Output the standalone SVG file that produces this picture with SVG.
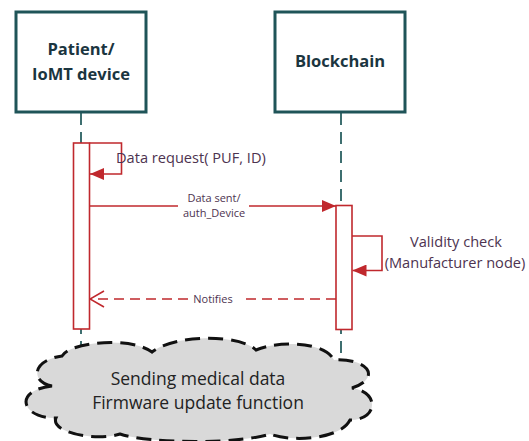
<svg xmlns="http://www.w3.org/2000/svg" width="529" height="441" viewBox="0 0 529 441">
  <style>
    .actor { fill: #ffffff; stroke: #1f5458; stroke-width: 3; }
    .actor-label { font-family: "Open Sans", "Liberation Sans", sans-serif; font-weight: bold; font-size: 16.5px; fill: #1b3540; text-anchor: middle; }
    .lifeline { stroke: #3e6f70; stroke-width: 2; stroke-dasharray: 12 7; fill: none; }
    .bar { fill: #ffffff; stroke: #c0282d; stroke-width: 1.6; }
    .msg { stroke: #c0282d; stroke-width: 1.6; fill: none; }
    .msg-dash { stroke: #c0282d; stroke-width: 1.6; fill: none; stroke-dasharray: 10 6; }
    .lbl { font-family: "Open Sans", "Liberation Sans", sans-serif; fill: #4d3350; }
    .big { font-size: 14.6px; }
    .small { font-size: 11px; text-anchor: middle; }
    .cloud { fill: #d9d9d9; stroke: #111111; stroke-width: 3; stroke-dasharray: 15 8; }
    .cloud-label { font-family: "Open Sans", "Liberation Sans", sans-serif; font-size: 17.5px; fill: #222222; text-anchor: middle; }
  </style>
  <defs>
    <marker id="filled" viewBox="0 0 14 12" refX="14" refY="6" markerWidth="14" markerHeight="12" markerUnits="userSpaceOnUse" orient="auto">
      <path d="M0 0 L14 6 L0 12 Z" fill="#c0282d"/>
    </marker>
    <marker id="open" viewBox="0 0 16 18" refX="15" refY="9" markerWidth="16" markerHeight="18" markerUnits="userSpaceOnUse" orient="auto">
      <path d="M1 1 L15 9 L1 17" fill="none" stroke="#c0282d" stroke-width="1.6"/>
    </marker>
  </defs>

  <!-- lifelines -->
  <g id="lifelines">
    <line class="lifeline" x1="81" y1="113" x2="81" y2="360"/>
    <line class="lifeline" x1="341" y1="113" x2="341" y2="360"/>
  </g>

  <g id="patient">
    <rect class="actor" x="16" y="12" width="130" height="100"/>
    <text class="actor-label" x="81" y="55">Patient/</text>
    <text class="actor-label" x="81" y="80">IoMT device</text>
    <rect class="bar" x="73.5" y="143" width="16" height="186"/>
  </g>

  <g id="blockchain">
    <rect class="actor" x="275" y="12" width="130" height="100"/>
    <text class="actor-label" x="340" y="67">Blockchain</text>
    <rect class="bar" x="336" y="205.5" width="16" height="124"/>
  </g>

  <!-- messages -->
  <g id="connectors">
    <path class="msg" d="M89.5 143 H121.5 V174 H90" marker-end="url(#filled)"/>
    <text class="lbl big" x="116" y="163">Data request( PUF, ID)</text>

    <line class="msg" x1="89.5" y1="206" x2="178" y2="206"/>
    <line class="msg" x1="249" y1="206" x2="336" y2="206" marker-end="url(#filled)"/>
    <text class="lbl small" x="214" y="202">Data sent/</text>
    <text class="lbl small" x="214" y="217">auth_Device</text>

    <path class="msg" d="M352 236 H382 V270.5 H352.5" marker-end="url(#filled)"/>
    <text class="lbl big" x="456" y="247" text-anchor="middle">Validity check</text>
    <text class="lbl big" x="455" y="268" text-anchor="middle">(Manufacturer node)</text>

    <line class="msg-dash" x1="336" y1="299" x2="240" y2="299"/>
    <line class="msg-dash" x1="188" y1="299" x2="90" y2="299" marker-end="url(#open)"/>
    <text class="lbl small" x="213" y="303">Notifies</text>
  </g>

  <g id="cloud">
    <path class="cloud" d="M52 386 C30 382, 32 360, 62 356 C70 342, 130 336, 152 352 C175 334, 240 334, 256 350 C280 340, 325 342, 334 360 C368 358, 382 378, 352 388 C380 392, 378 420, 350 420 C340 440, 290 442, 270 434 C240 444, 150 444, 120 434 C95 442, 50 432, 56 418 C20 418, 14 390, 52 386 Z"/>
    <text class="cloud-label" x="198" y="385">Sending medical data</text>
    <text class="cloud-label" x="198" y="409">Firmware update function</text>
  </g>
</svg>
